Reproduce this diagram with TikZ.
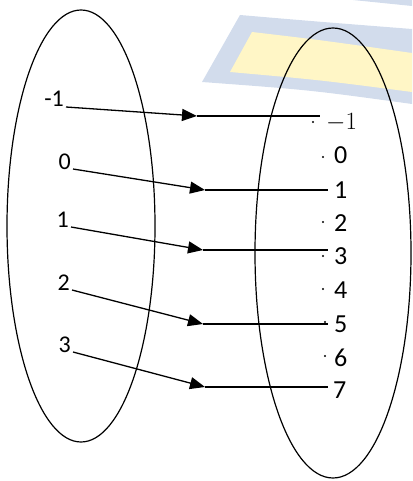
\documentclass[tikz,border=0pt]{standalone}
\usepackage{fontspec}
\setmainfont{Carlito}
\usepackage{tikz}
\usetikzlibrary{arrows.meta}
\definecolor{wmblue}{RGB}{210,220,236}
\definecolor{wmyellow}{RGB}{255,246,198}

\begin{document}
\begin{tikzpicture}[x=1pt, y=-1pt,
  setline/.style={line width=1.2pt},
  dom/.style={font=\fontsize{24}{26}\selectfont, inner xsep=2pt, inner ysep=0pt, anchor=base east},
  cod/.style={font=\fontsize{26}{28}\selectfont, inner sep=0pt, anchor=base west},
  elem/.style={fill, circle, inner sep=0pt, minimum size=2.4pt},
  mapto/.style={line width=1.3pt, -{Triangle[length=15pt, width=12pt]}},
  tail/.style={line width=1.3pt}
]
\useasboundingbox (0,0) rectangle (412,481);

% faint watermark behind the sets
\fill[wmblue] (353,0) -- (412,0) -- (412,6) -- cycle;
\fill[wmblue] (240,15) .. controls (310,21) .. (412,29) -- (412,104)
  .. controls (310,90) .. (202,82) -- cycle;
\fill[wmyellow] (252,32) .. controls (320,40) .. (412,53) -- (412,92)
  .. controls (320,80) .. (230,72) -- cycle;

% the two sets
\draw[setline] (81,226) ellipse [x radius=74, y radius=216];
\draw[setline] (333,253) ellipse [x radius=78, y radius=225];

% domain
\node[dom] (lm1) at (66,107) {-1};
\node[dom] (l0) at (73,169) {0};
\node[dom] (l1) at (71,227) {1};
\node[dom] (l2) at (72,290) {2};
\node[dom] (l3) at (73,352) {3};

% codomain
\node[cod] (rm1) at (326,130) {$-1$};
\node[cod] (r0) at (334,164) {0};
\node[cod] (r1) at (334,198) {1};
\node[cod] (r2) at (334,231) {2};
\node[cod] (r3) at (334,264) {3};
\node[cod] (r4) at (334,298) {4};
\node[cod] (r5) at (334,332) {5};
\node[cod] (r6) at (334,366) {6};
\node[cod] (r7) at (333,398) {7};

\node[elem] (dm1) at (313,122) {};
\node[elem] (d0) at (323,157) {};
\node[elem] (d2) at (323,222) {};
\node[elem] (d3) at (323,256) {};
\node[elem] (d4) at (323,289) {};
\node[elem] (d5) at (325,322) {};
\node[elem] (d6) at (325,356) {};
\node[elem] (d7) at (325,387) {};

% arrow heads sit half way
\coordinate (tm1) at (197,116);
\coordinate (t0) at (205,190);
\coordinate (t1) at (203,250);
\coordinate (t2) at (203,324);
\coordinate (t3) at (205,387);
\coordinate (em1) at (320,116);
\coordinate (e0) at (328,190);
\coordinate (e1) at (328,250);
\coordinate (e2) at (328,324);
\coordinate (e3) at (328,387);

\draw[mapto] (lm1.base east) -- (tm1);
\draw[mapto] (l0.base east) -- (t0);
\draw[mapto] (l1.base east) -- (t1);
\draw[mapto] (l2.base east) -- (t2);
\draw[mapto] (l3.base east) -- (t3);

\draw[tail] (tm1) -- (em1);
\draw[tail] (t0) -- (e0);
\draw[tail] (t1) -- (e1);
\draw[tail] (t2) -- (e2);
\draw[tail] (t3) -- (e3);
\end{tikzpicture}
\end{document}
